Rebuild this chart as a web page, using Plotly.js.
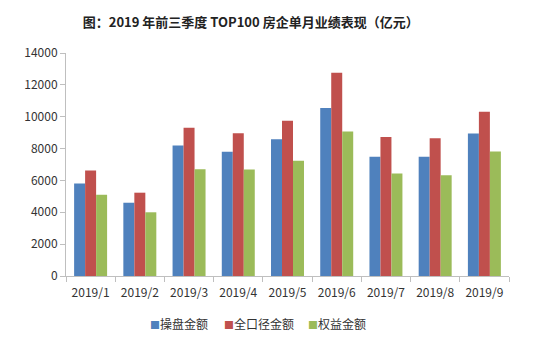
<!DOCTYPE html>
<html>
<head>
<meta charset="utf-8">
<script src="https://cdn.plot.ly/plotly-3.0.1.min.js"></script>
<style>html,body{margin:0;padding:0;background:#fff;}#chart{width:538px;height:340px;}</style>
</head>
<body>
<div id="chart"></div>
<script>
var months = ["2019/1","2019/2","2019/3","2019/4","2019/5","2019/6","2019/7","2019/8","2019/9"];
var caopan = [5800, 4600, 8200, 7800, 8590, 10540, 7490, 7490, 8940];
var quankoujing = [6630, 5230, 9300, 8960, 9740, 12760, 8730, 8650, 10310];
var quanyi = [5100, 4000, 6700, 6680, 7240, 9070, 6440, 6320, 7810];
var seriesNames = ["操盘金额", "全口径金额", "权益金额"];
var yTicks = [0, 2000, 4000, 6000, 8000, 10000, 12000, 14000];

var font = "'Noto Sans CJK SC', 'Noto Sans', sans-serif";
var colors = ["#4F81BD", "#C0504D", "#9BBB59"];
var vals = [caopan, quankoujing, quanyi];
var data = vals.map(function(v, i){
  return {type:'bar', x: months, y: v, name: seriesNames[i], marker:{color: colors[i]}};
});
var legendX = [148, 222, 306];
var annotations = seriesNames.map(function(n, i){
  return {xref:'paper', yref:'paper', x:(legendX[i]-66)/(538-66-29), xanchor:'left', y:(340-64-323)/(340-53-64), yanchor:'middle', showarrow:false,
    text:'<span style="color:'+colors[i]+';font-size:10px">■</span>'+n, font:{family:font, size:12, color:'#333'}};
});
var layout = {
  width:538, height:340,
  margin:{l:66, r:29, t:53, b:64},
  paper_bgcolor:'#fff', plot_bgcolor:'#fff',
  font:{family:font, size:11, color:'#333'},
  title:{text:'<b>图：2019 年前三季度 TOP100 房企单月业绩表现（亿元）</b>', font:{family:font, size:13, color:'#222'}, x:0.466, xref:'container', xanchor:'center', y:0.935, yref:'container', yanchor:'middle'},
  bargap:0.33, bargroupgap:0,
  showlegend:false,
  annotations: annotations,
  xaxis:{showline:true, linecolor:'#bfbfbf', linewidth:1, ticks:'outside', tickson:'boundaries', ticklen:5, tickcolor:'#bfbfbf', showgrid:false, ticklabelstandoff:6, tickfont:{family:font, size:12, color:'#333'}, fixedrange:true},
  yaxis:{range:[0,14000], tickvals:yTicks, ticktext:yTicks.map(String), showline:true, linecolor:'#bfbfbf', linewidth:1, ticks:'outside', ticklen:5, tickcolor:'#bfbfbf', showgrid:false, zeroline:false, tickfont:{family:font, size:12, color:'#333'}, fixedrange:true}
};
Plotly.newPlot('chart', data, layout, {displayModeBar:false, staticPlot:true});
</script>
</body>
</html>
